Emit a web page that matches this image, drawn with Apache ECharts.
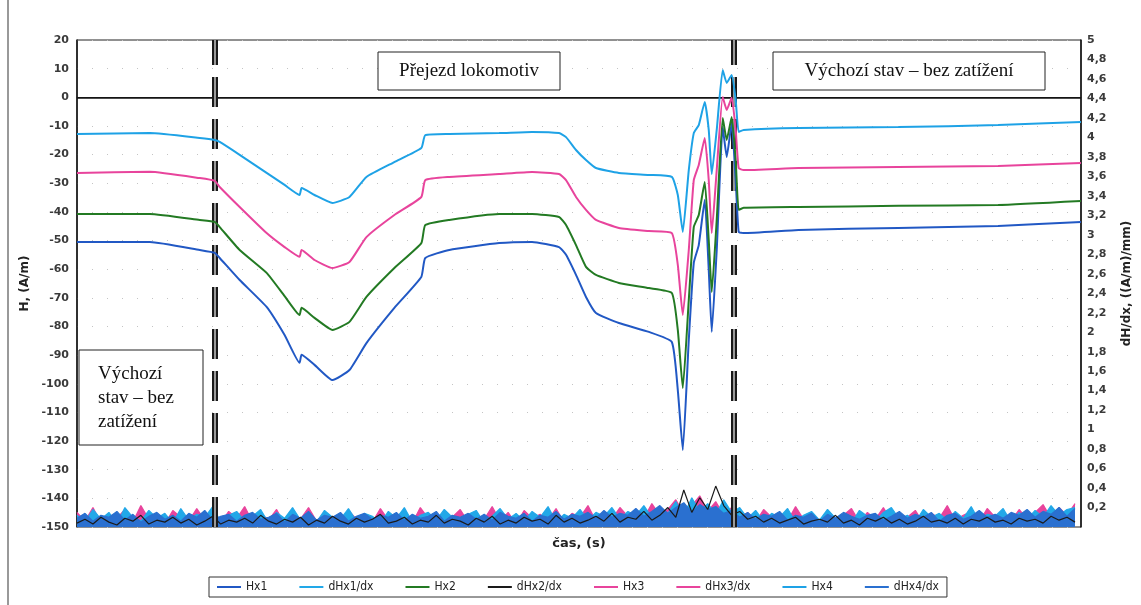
<!DOCTYPE html>
<html><head><meta charset="utf-8">
<script src="https://cdn.jsdelivr.net/npm/echarts@6/dist/echarts.min.js"></script>
<style>html,body{margin:0;padding:0;background:#fff}#c{width:1141px;height:605px}</style>
</head><body><div id="c"></div>
<script>
// time (s) of the H samples
const timeS = [0,73,123,138,143,163,190,208,223,225,238,256,273,290,318,345,349,373,423,456,483,490,500,510,520,543,573,596,602,607,613,618,623,629,633,636,641,647,651,656,660,663,668,723,823,923,1006];
const hx1 = [-50.5,-50.5,-53.3,-54.3,-56.1,-63.8,-73.2,-83,-92.7,-89.9,-93.4,-98.7,-95.2,-85.8,-73.5,-62.7,-56.1,-53.3,-50.9,-50.5,-52.3,-55,-62,-69.7,-75.3,-78.8,-81.9,-85.4,-102.2,-123.1,-84.7,-57.8,-51.6,-35.8,-60.2,-81.9,-53.3,-10.4,-20.8,-9,-28.9,-47,-47.4,-46.3,-45.6,-44.9,-43.5];
const hx2 = [-40.7,-40.7,-42.8,-43.5,-45.3,-53.3,-61.3,-69.4,-76,-73.5,-77,-81.2,-78.4,-69.7,-59.6,-50.9,-44.6,-42.8,-40.7,-40.7,-41.8,-44.6,-51.6,-59.2,-62,-64.8,-66.6,-68.3,-81.2,-101.5,-70.8,-45.3,-41.1,-29.6,-49.8,-68,-42.8,-7.2,-14.9,-6.9,-21.9,-39.3,-38.6,-38.3,-37.9,-37.6,-36.2];
const hx3 = [-26.4,-26,-28.2,-29.2,-31.3,-38.3,-47.4,-52.3,-55.7,-53.3,-56.8,-59.6,-57.5,-48.8,-41.1,-34.8,-28.9,-27.8,-26.8,-26.1,-26.8,-28.9,-34.8,-39.3,-42.8,-45.6,-46.7,-47.4,-58.5,-76,-53.3,-28.9,-23.6,-14.2,-28.9,-47.4,-25.4,0.1,-4.4,-0.2,-11.4,-24.7,-25.4,-24.7,-24.3,-24,-22.9];
const hx4 = [-12.8,-12.5,-14.2,-14.9,-15.6,-20.1,-26.4,-30.6,-34.1,-31.7,-34.1,-36.9,-34.8,-27.8,-22.6,-17.7,-13.2,-12.8,-12.5,-12.1,-12.5,-13.9,-18.4,-21.9,-24.7,-26.4,-27.1,-27.8,-34.1,-47,-25.4,-12.5,-9.7,-1.6,-11.4,-26.8,-11.4,9.5,5,7.8,-0.9,-12.1,-11.4,-10.7,-10.4,-9.7,-8.6];

// derivative samples, one every dStep seconds
const dStep = 8;
const dhx1 = [0.12,0.05,0.18,0.08,0.15,0.03,0.2,0.1,0.06,0.17,0.09,0.14,0.04,0.19,0.07,0.13,0.1,0.21,0.05,0.12,
 0.16,0.06,0.11,0.18,0.04,0.15,0.09,0.2,0.07,0.13,0.05,0.17,0.1,0.08,0.19,0.06,0.14,0.11,0.04,0.16,
 0.09,0.2,0.05,0.12,0.15,0.07,0.18,0.1,0.06,0.13,0.17,0.04,0.11,0.19,0.08,0.14,0.06,0.16,0.1,0.21,
 0.05,0.13,0.09,0.18,0.07,0.15,0.11,0.2,0.08,0.16,0.12,0.22,0.1,0.19,0.14,0.26,0.12,0.3,0.16,0.24,
 0.13,0.28,0.15,0.2,0.09,0.17,0.06,0.14,0.1,0.19,0.05,0.12,0.16,0.07,0.18,0.09,0.13,0.04,0.17,0.11,
 0.06,0.15,0.2,0.08,0.12,0.05,0.18,0.1,0.14,0.07,0.16,0.09,0.21,0.06,0.13,0.11,0.19,0.05,0.15,0.08,
 0.17,0.1,0.22,0.12,0.18,0.2];
const dhx2 = [0.04,0.08,0.03,0.1,0.05,0.02,0.09,0.06,0.12,0.03,0.07,0.05,0.1,0.04,0.08,0.02,0.06,0.11,0.03,0.07,
 0.05,0.09,0.04,0.12,0.06,0.03,0.08,0.05,0.1,0.02,0.07,0.04,0.11,0.06,0.03,0.09,0.05,0.08,0.13,0.04,
 0.06,0.1,0.03,0.07,0.05,0.12,0.04,0.08,0.06,0.02,0.09,0.05,0.11,0.03,0.07,0.04,0.1,0.06,0.08,0.03,
 0.12,0.05,0.09,0.04,0.07,0.11,0.06,0.14,0.05,0.1,0.08,0.16,0.07,0.12,0.2,0.1,0.38,0.15,0.3,0.18,
 0.42,0.22,0.12,0.16,0.08,0.11,0.05,0.09,0.04,0.07,0.1,0.03,0.06,0.08,0.05,0.12,0.04,0.07,0.02,0.09,
 0.06,0.1,0.04,0.08,0.03,0.06,0.11,0.05,0.07,0.04,0.09,0.03,0.08,0.06,0.1,0.05,0.07,0.03,0.09,0.06,
 0.08,0.04,0.11,0.07,0.1,0.05];
const dhx3 = [0.15,0.06,0.2,0.04,0.13,0.09,0.18,0.05,0.22,0.08,0.14,0.03,0.17,0.1,0.06,0.19,0.07,0.12,0.04,0.16,
 0.09,0.21,0.05,0.14,0.07,0.18,0.03,0.12,0.08,0.2,0.06,0.15,0.1,0.04,0.17,0.08,0.13,0.05,0.19,0.07,
 0.11,0.16,0.04,0.2,0.09,0.06,0.14,0.1,0.18,0.05,0.12,0.08,0.21,0.06,0.15,0.03,0.17,0.09,0.13,0.07,
 0.19,0.05,0.14,0.1,0.22,0.06,0.16,0.08,0.2,0.11,0.15,0.09,0.24,0.12,0.18,0.28,0.14,0.22,0.32,0.16,
 0.26,0.12,0.2,0.08,0.15,0.05,0.18,0.1,0.13,0.06,0.21,0.08,0.14,0.04,0.17,0.09,0.12,0.19,0.05,0.15,
 0.08,0.2,0.06,0.13,0.1,0.17,0.04,0.14,0.09,0.22,0.07,0.12,0.16,0.05,0.19,0.1,0.13,0.06,0.18,0.08,
 0.15,0.23,0.09,0.2,0.12,0.24];
const dhx4 = [0.09,0.14,0.06,0.12,0.1,0.16,0.07,0.13,0.05,0.11,0.15,0.08,0.12,0.06,0.14,0.1,0.17,0.07,0.11,0.13,
 0.06,0.12,0.15,0.08,0.1,0.14,0.05,0.13,0.09,0.16,0.07,0.12,0.1,0.15,0.06,0.11,0.14,0.08,0.12,0.1,
 0.15,0.07,0.13,0.09,0.11,0.16,0.06,0.12,0.1,0.14,0.08,0.13,0.07,0.15,0.11,0.09,0.14,0.06,0.12,0.1,
 0.16,0.08,0.13,0.11,0.15,0.09,0.17,0.1,0.14,0.12,0.19,0.11,0.16,0.22,0.14,0.2,0.25,0.15,0.23,0.18,
 0.21,0.14,0.17,0.1,0.15,0.08,0.13,0.11,0.16,0.07,0.12,0.1,0.14,0.06,0.13,0.09,0.15,0.11,0.08,0.12,
 0.14,0.07,0.11,0.16,0.09,0.13,0.1,0.15,0.06,0.12,0.14,0.08,0.11,0.17,0.1,0.13,0.09,0.15,0.12,0.18,
 0.1,0.16,0.13,0.2,0.11,0.19];

// event markers (s)
const eventTimes = [138, 658];
const seriesNames = ['Hx1','dHx1/dx','Hx2','dHx2/dx','Hx3','dHx3/dx','Hx4','dHx4/dx'];

const hPairs = arr => arr.map((v,i)=>[timeS[i], v]);
const dPairs = arr => arr.map((v,i)=>[i*dStep, v]);

const chart = echarts.init(document.getElementById('c'));
const axisFont = {fontFamily:'DejaVu Sans', fontSize:11, fontWeight:'bold', color:'#3a3a3a'};

const markSeriesLine = {
  silent:true, symbol:'none', label:{show:false}, animation:false,
  data:[
    {yAxis:0, lineStyle:{color:'#111', width:1.5, type:'solid'}},
    {xAxis:eventTimes[0], lineStyle:{color:'#1a1a1a', width:6, type:[30,12]}},
    {xAxis:eventTimes[1], lineStyle:{color:'#1a1a1a', width:6, type:[30,12]}},
    {xAxis:eventTimes[0], lineStyle:{color:'#9a9a9a', width:2, type:[30,12]}},
    {xAxis:eventTimes[1], lineStyle:{color:'#9a9a9a', width:2, type:[30,12]}}
  ]
};

function dSeries(name, data, color, area, z){
  const s = {name, type:'line', yAxisIndex:1, data:dPairs(data), symbol:'none',
    lineStyle:{width:1.2, color}, itemStyle:{color}, z};
  if(area) s.areaStyle = {color, opacity:1};
  return s;
}
function hSeries(name, data, color){
  return {name, type:'line', yAxisIndex:0, data:hPairs(data), symbol:'none', smooth:0.15,
    lineStyle:{width:2, color}, itemStyle:{color}, z:5};
}

const sHx1 = hSeries('Hx1', hx1, '#2158c4');
sHx1.markLine = markSeriesLine;

chart.setOption({
  animation:false,
  backgroundColor:'#fff',
  grid:{left:77, right:58, top:40, bottom:78, show:true, borderColor:'#222', borderWidth:1},
  legend:{
    data:seriesNames, left:209, top:577, orient:'horizontal',
    borderColor:'#333', borderWidth:1, padding:[4,8], itemGap:32, itemWidth:24, itemHeight:8,
    icon:'path://M0,4L24,4L24,6L0,6Z',
    textStyle:{fontFamily:'DejaVu Sans Condensed', fontSize:12, color:'#222'}
  },
  xAxis:{type:'value', min:0, max:1006, axisLabel:{show:false}, axisTick:{show:false},
    splitLine:{show:false}, axisLine:{lineStyle:{color:'#222'}},
    name:'čas, (s)', nameLocation:'middle', nameGap:10,
    nameTextStyle:{fontFamily:'DejaVu Sans', fontSize:13, fontWeight:'bold', color:'#222'}},
  yAxis:[
    {type:'value', min:-150, max:20, interval:10, position:'left',
      axisLine:{show:true, lineStyle:{color:'#111', width:1.5}}, axisTick:{show:false},
      axisLabel:Object.assign({margin:8}, axisFont),
      splitLine:{show:true, lineStyle:{color:'#c4c4c4', width:1.2, type:[1,14]}},
      name:'H, (A/m)', nameLocation:'middle', nameGap:40,
      nameTextStyle:{fontFamily:'DejaVu Sans', fontSize:12, fontWeight:'bold', color:'#222'}},
    {type:'value', min:0, max:5, interval:0.2, position:'right',
      axisLine:{show:true, lineStyle:{color:'#111', width:1.5}}, axisTick:{show:false},
      axisLabel:Object.assign({margin:6, formatter:v=> v===0 ? '' : String(+v.toFixed(1)).replace('.',',')}, axisFont),
      splitLine:{show:false},
      name:'dH/dx, ((A/m)/mm)', nameLocation:'middle', nameGap:40,
      nameTextStyle:{fontFamily:'DejaVu Sans', fontSize:12, fontWeight:'bold', color:'#222'}}
  ],
  series:[
    dSeries('dHx3/dx', dhx3, '#e8449c', true, 1),
    dSeries('dHx1/dx', dhx1, '#22a8e8', true, 2),
    dSeries('dHx4/dx', dhx4, '#2a70d0', true, 3),
    dSeries('dHx2/dx', dhx2, '#1a1a1a', false, 4),
    sHx1,
    hSeries('Hx2', hx2, '#237a23'),
    hSeries('Hx3', hx3, '#e8449c'),
    hSeries('Hx4', hx4, '#1ea2e6')
  ],
  graphic:[
    {type:'line', shape:{x1:8, y1:0, x2:8, y2:605}, style:{stroke:'#999', lineWidth:2}},
    {type:'rect', shape:{x:378, y:52, width:182, height:38}, style:{fill:'#fff', stroke:'#222', lineWidth:1}, z:10},
    {type:'text', x:469, y:71, style:{text:'Přejezd lokomotiv', font:'19px "Liberation Serif"', fill:'#111', align:'center', verticalAlign:'middle'}, z:11},
    {type:'rect', shape:{x:773, y:52, width:272, height:38}, style:{fill:'#fff', stroke:'#222', lineWidth:1}, z:10},
    {type:'text', x:909, y:71, style:{text:'Výchozí stav – bez zatížení', font:'19px "Liberation Serif"', fill:'#111', align:'center', verticalAlign:'middle'}, z:11},
    {type:'rect', shape:{x:79, y:350, width:124, height:95}, style:{fill:'#fff', stroke:'#222', lineWidth:1}, z:10},
    {type:'text', x:98, y:398, style:{text:'Výchozí\nstav – bez\nzatížení', font:'19px "Liberation Serif"', lineHeight:24, fill:'#111', align:'left', verticalAlign:'middle'}, z:11}
  ]
});
</script></body></html>
